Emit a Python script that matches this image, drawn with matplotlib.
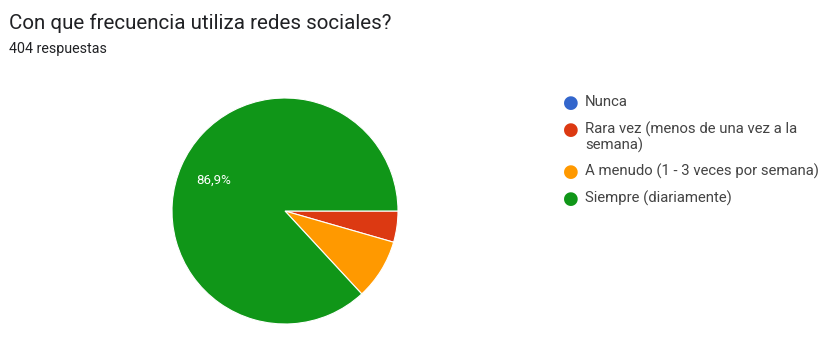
import matplotlib.pyplot as plt

plt.rcParams['font.family'] = ['Roboto', 'DejaVu Sans']

title = "Con que frecuencia utiliza redes sociales?"
subtitle = "404 respuestas"
labels = ["Nunca", "Rara vez (menos de una vez a la\nsemana)",
          "A menudo (1 - 3 veces por semana)", "Siempre (diariamente)"]
counts = [0, 18, 35, 351]
colors = ["#3366cc", "#dc3912", "#ff9900", "#109618"]

W, H = 829, 359
fig = plt.figure(figsize=(W / 100, H / 100), dpi=100)
fig.patch.set_facecolor("white")

fig.text(9 / W, 1 - 23 / H, title, fontsize=14.8, color="#202124", va="center")
fig.text(9 / W, 1 - 49 / H, subtitle, fontsize=10.3, color="#202124", va="center")

# pie axes: centre (285, 211), radius 113 px
cx, cy, r = 285, 211, 113
ax = fig.add_axes([(cx - r) / W, 1 - (cy + r) / H, 2 * r / W, 2 * r / H])


def fmt(p):
    return ("%.1f%%" % p).replace(".", ",") if p > 10 else ""


wedges, _, autotexts = ax.pie(counts, colors=colors, startangle=0, counterclock=False,
                              autopct=fmt, pctdistance=0.69,
                              wedgeprops=dict(edgecolor="white", linewidth=0.8),
                              textprops=dict(color="white", fontsize=9.5))
ax.set_xlim(-1, 1)
ax.set_ylim(-1, 1)
ax.set_aspect("equal")
ax.axis("off")

# legend
y = 103
for lab, col in zip(labels, colors):
    fig.text(571 / W, 1 - y / H, "\u25cf", color=col, fontsize=13, ha="center", va="center")
    fig.text(585 / W, 1 - (y - 8) / H, lab, color="#444444", fontsize=10.7, va="top",
             linespacing=1.05)
    y += 27 + 15 * lab.count("\n")

fig.savefig("out.png", dpi=100)
